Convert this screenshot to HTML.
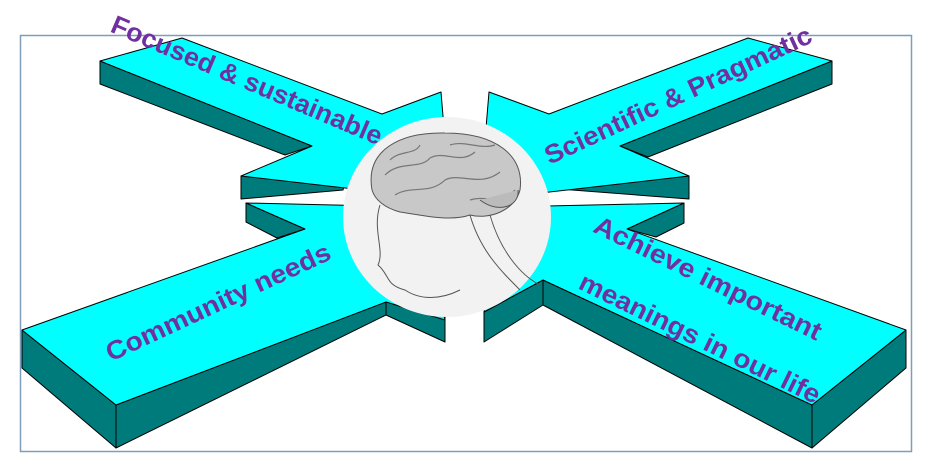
<!DOCTYPE html>
<html><head><meta charset="utf-8"><style>html,body{margin:0;padding:0;background:#fff}svg{display:block}</style></head>
<body>
<svg width="932" height="473" viewBox="0 0 932 473" xmlns="http://www.w3.org/2000/svg">
<rect x="20.5" y="35.5" width="891" height="416" fill="#fff" stroke="#7f9db9" stroke-width="1.5"/>
<g stroke="#000" stroke-width="1" stroke-linejoin="round">
<polygon points="100,61 312,146 285,155 100,84" fill="#007b7b"/>
<polygon points="241,176 350,168 343,190 241,199" fill="#007b7b"/>
<polygon points="100,61 182,38 382,114 441,92 450,200 241,176 312,146" fill="#00ffff"/>
<polygon points="832,61 620,146 648,157 832,84" fill="#007b7b"/>
<polygon points="689,176 536,163 546,188 689,199" fill="#007b7b"/>
<polygon points="832,61 748,38 549,114 489,92 480,200 689,176 620,146" fill="#00ffff"/>
<polygon points="22,330 116,405 116,448 22,368" fill="#007b7b"/>
<polygon points="116,405 386,302 386,315 116,448" fill="#007b7b"/>
<polygon points="246,203 305,229 277,238 246,222" fill="#007b7b"/>
<polygon points="386,300 445,315 445,342 386,315" fill="#007b7b"/>
<polygon points="22,330 305,229 246,203 420,207 445,320 386,302 116,405" fill="#00ffff"/>
<polygon points="906,330 812,405 812,448 906,368" fill="#007b7b"/>
<polygon points="543,280 812,405 812,448 543,305" fill="#007b7b"/>
<polygon points="484,312 543,280 543,305 484,342" fill="#007b7b"/>
<polygon points="684,203 684,223 656,237 627,229" fill="#007b7b"/>
<polygon points="684,203 627,229 906,330 812,405 543,280 484,312 500,207" fill="#00ffff"/>
</g>
<ellipse cx="447" cy="217" rx="104" ry="100" fill="#f2f2f2"/>
<path d="M372,190 C365,150 400,132 445,133 C495,133 525,155 520,190 C515,210 490,220 470,215 C450,222 420,215 400,212 C385,208 375,200 372,190 Z" fill="#c8c8c8" stroke="#555" stroke-width="1"/>
<path d="M385,175 C400,160 420,170 430,158 C445,150 460,165 475,152 M395,195 C410,185 430,195 445,180 C460,172 480,188 500,172 M470,200 C485,195 500,205 515,190 M390,160 C400,150 415,155 420,145 M450,145 C465,140 480,150 495,145" fill="none" stroke="#777" stroke-width="1.2"/>
<path d="M480,200 C500,215 520,205 518,190" fill="#bbb" stroke="#555"/>
<path d="M380,205 C372,230 385,250 378,265 C390,275 385,285 405,290 C420,300 440,300 460,290 M490,215 C500,250 520,275 540,285 M470,215 C480,250 500,270 520,290" fill="none" stroke="#555" stroke-width="1"/>
<g font-family="Liberation Sans, sans-serif" font-size="26" font-weight="bold" fill="#7030a0" text-anchor="middle" dominant-baseline="central">
<text x="247" y="80" transform="rotate(23 247 80)" textLength="292" lengthAdjust="spacingAndGlyphs">Focused &amp; sustainable</text>
<text x="678" y="95" transform="rotate(-25 678 95)" textLength="292" lengthAdjust="spacingAndGlyphs">Scientific &amp; Pragmatic</text>
<text x="218" y="302" transform="rotate(-25 218 302)" textLength="245" lengthAdjust="spacingAndGlyphs">Community needs</text>
<text x="708" y="278" transform="rotate(26 708 278)" textLength="250" lengthAdjust="spacingAndGlyphs">Achieve important</text>
<text x="700" y="338" transform="rotate(26 700 338)" textLength="265" lengthAdjust="spacingAndGlyphs">meanings in our life</text>
</g>
</svg>
</body></html>
